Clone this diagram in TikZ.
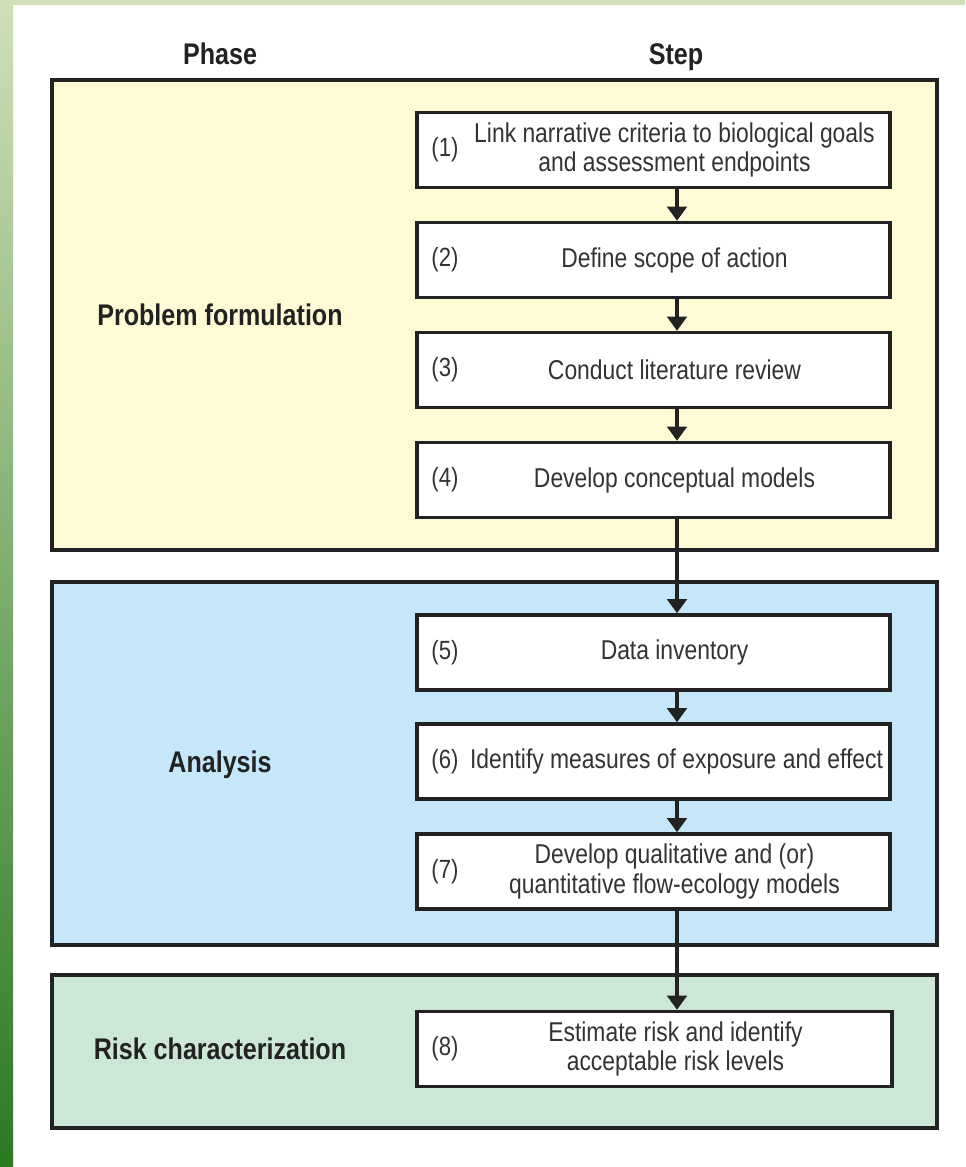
\documentclass[tikz,border=0pt]{standalone}
\usepackage{fontspec}
\setmainfont{Liberation Sans}[FakeStretch=0.84]
\usepackage{tikz}
\usetikzlibrary{arrows.meta,calc}
\usepackage[dvipsnames,svgnames,x11names]{xcolor}

\definecolor{phaseyellow}{HTML}{FFFAD6}
\definecolor{phaseblue}{HTML}{C6E7F9}
\definecolor{phasegreen}{HTML}{CCE7D6}
\definecolor{stripgreen}{HTML}{CFE0B8}
\definecolor{darkgreen}{HTML}{2A7A22}
\definecolor{inkgray}{HTML}{222222}
\definecolor{textgray}{HTML}{333333}

\tikzset{
    phasebox/.style={draw=inkgray, line width=2pt},
    stepbox/.style={draw=inkgray, line width=2pt, fill=white,
        minimum width=9.46cm, minimum height=1.5cm},
    steptext/.style={text=textgray, align=center, font=\fontsize{15.5}{17}\selectfont},
    stepnum/.style={text=textgray, anchor=west, font=\fontsize{15}{17}\selectfont},
    phaselabel/.style={text=inkgray, font=\bfseries\fontsize{17}{19}\selectfont},
    flow/.style={draw=inkgray, line width=2.5pt,
        -{Triangle[width=11pt,length=8pt]}}
}

\begin{document}
\begin{tikzpicture}[x=0.02cm, y=-0.02cm]

% Rahmen
\fill[white] (0,0) rectangle (965,1167);
\useasboundingbox (0,0) rectangle (965,1167);
\shade[top color=stripgreen, bottom color=darkgreen] (0,0) rectangle (13,1167);
\fill[stripgreen] (0,0) rectangle (965,5);

% Kopfzeile
\node[phaselabel, anchor=base] (hphase) at (220,64) {Phase};
\node[phaselabel, anchor=base] (hstep) at (676,64) {Step};

% Phasen
\draw[phasebox, fill=phaseyellow] (52,80) rectangle (937,550);
\draw[phasebox, fill=phaseblue] (52,582) rectangle (937,945);
\draw[phasebox, fill=phasegreen] (52,975) rectangle (937,1128);

\node[phaselabel] (pform) at (220,315) {Problem formulation};
\node[phaselabel] (panal) at (220,765) {Analysis};
\node[phaselabel] (prisk) at (220,1049) {Risk characterization};

% Schritte
\node[stepbox] (s1) at (653.5,150) {};
\node[stepbox] (s2) at (653.5,260) {};
\node[stepbox] (s3) at (653.5,370) {};
\node[stepbox] (s4) at (653.5,480) {};
\node[stepbox] (s5) at (653.5,652.5) {};
\node[stepbox] (s6) at (653.5,761.5) {};
\node[stepbox] (s7) at (653.5,871.5) {};
\node[stepbox, minimum width=9.5cm] (s8) at (654.5,1049) {};

% Nummern
\node[stepnum] (n1) at ([xshift=0.2cm]s1.west) {(1)};
\node[stepnum] (n2) at ([xshift=0.2cm]s2.west) {(2)};
\node[stepnum] (n3) at ([xshift=0.2cm]s3.west) {(3)};
\node[stepnum] (n4) at ([xshift=0.2cm]s4.west) {(4)};
\node[stepnum] (n5) at ([xshift=0.2cm]s5.west) {(5)};
\node[stepnum] (n6) at ([xshift=0.2cm]s6.west) {(6)};
\node[stepnum] (n7) at ([xshift=0.2cm]s7.west) {(7)};
\node[stepnum] (n8) at ([xshift=0.2cm]s8.west) {(8)};

% Texte
\node[steptext] (t1) at ([xshift=0.42cm]s1.center)
    {Link narrative criteria to biological goals\\and assessment endpoints};
\node[steptext] (t2) at ([xshift=0.42cm]s2.center) {Define scope of action};
\node[steptext] (t3) at ([xshift=0.42cm]s3.center) {Conduct literature review};
\node[steptext] (t4) at ([xshift=0.42cm]s4.center) {Develop conceptual models};
\node[steptext] (t5) at ([xshift=0.42cm]s5.center) {Data inventory};
\node[steptext] (t6) at ([xshift=0.46cm]s6.center) {Identify measures of exposure and effect};
\node[steptext] (t7) at ([xshift=0.42cm]s7.center)
    {Develop qualitative and (or)\\quantitative flow-ecology models};
\node[steptext] (t8) at ([xshift=0.42cm]s8.center)
    {Estimate risk and identify\\acceptable risk levels};

% Pfeile
\coordinate (ax) at (677,0);
\draw[flow] (s1.south -| ax) -- (s2.north -| ax);
\draw[flow] (s2.south -| ax) -- (s3.north -| ax);
\draw[flow] (s3.south -| ax) -- (s4.north -| ax);
\draw[flow] (s4.south -| ax) -- (s5.north -| ax);
\draw[flow] (s5.south -| ax) -- (s6.north -| ax);
\draw[flow] (s6.south -| ax) -- (s7.north -| ax);
\draw[flow] (s7.south -| ax) -- (s8.north -| ax);

\end{tikzpicture}
\end{document}
